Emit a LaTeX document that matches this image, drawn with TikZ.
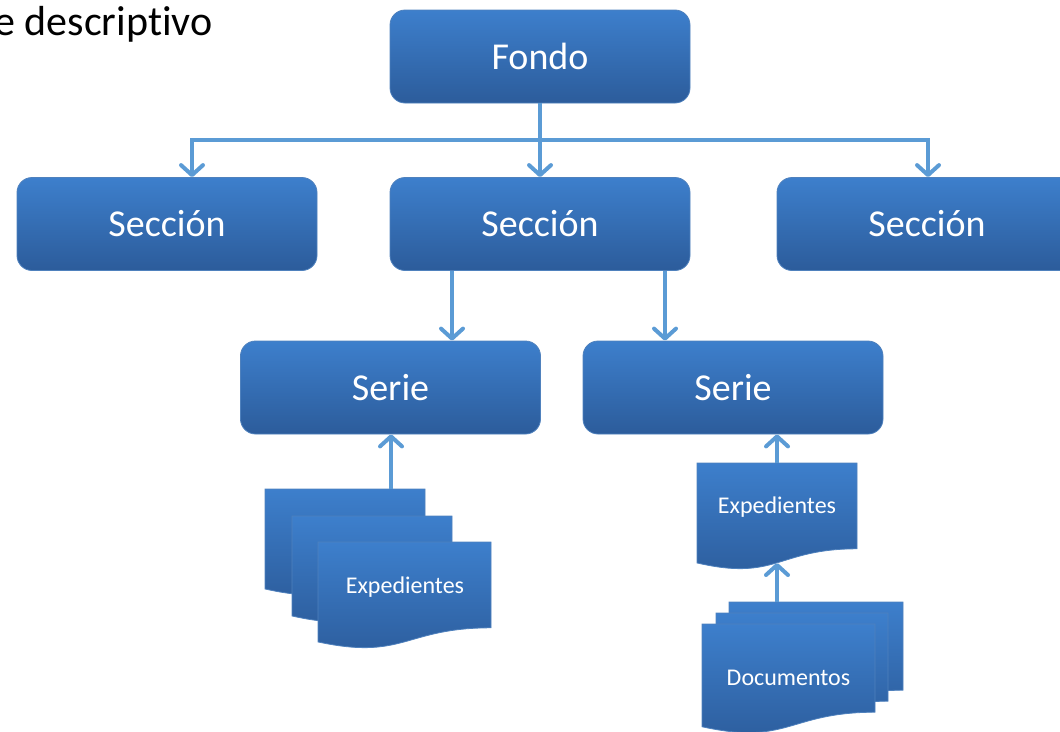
\documentclass[tikz,border=0pt]{standalone}
\usepackage{fontspec}
\setmainfont{Carlito}[Ligatures=NoCommon]
\usetikzlibrary{arrows.meta}

\definecolor{boxtop}{HTML}{3D7FCC}
\definecolor{boxbottom}{HTML}{2C5C9B}
\definecolor{boxline}{HTML}{4F81BD}
\definecolor{linkblue}{HTML}{5B9BD5}

\tikzset{
  unitbox/.style={rectangle, rounded corners=15pt, draw=boxline, line width=0.8pt,
    top color=boxtop, bottom color=boxbottom, text=white,
    minimum width=300pt, minimum height=93pt, font=\fontsize{38}{40}\selectfont},
  sheet/.style={draw=boxline, line width=0.8pt, top color=boxtop, bottom color=boxbottom},
  doclabel/.style={text=white, font=\fontsize{24}{26}\selectfont},
  link/.style={draw=linkblue, line width=4pt},
  linkarrow/.style={link, -{Straight Barb[length=10pt,width=22pt,round]}},
}

% one document page: left, top, width, height
\newcommand{\docpage}[4]{%
  \path[sheet] (#1,#2) -- ({#1+#3},#2) -- ({#1+#3},{#2+0.802*#4})
    .. controls ({#1+0.5*#3},{#2+0.802*#4}) and ({#1+0.5*#3},{#2+1.1075*#4}) .. (#1,{#2+0.934*#4}) -- cycle;}

\begin{document}
\begin{tikzpicture}[x=1pt, y=-1pt]
  \useasboundingbox (0,0) rectangle (1060,731);

  \node[anchor=base east, font=\fontsize{42}{44}\selectfont] (titulo) at (216,35) {e descriptivo};

  \node[unitbox] (fondo) at (540,56.5) {Fondo};
  \node[unitbox] (seccionA) at (167,224) {Sección};
  \node[unitbox] (seccionB) at (540,224) {Sección};
  \node[unitbox] (seccionC) at (927,224) {Sección};
  \node[unitbox] (serieA) at (390.5,387.5) {Serie};
  \node[unitbox] (serieB) at (733,387.5) {Serie};

  % Fondo -> secciones
  \coordinate (barA) at (192,140);
  \coordinate (barC) at (928,140);
  \draw[link, line cap=rect] (barA) -- (barC);
  \draw[linkarrow] (barA) -- (barA |- seccionA.north);
  \draw[linkarrow] (barC) -- (barC |- seccionC.north);
  \draw[linkarrow] (fondo.south) -- (seccionB.north);

  % Sección -> series
  \draw[linkarrow] ([xshift=-88pt]seccionB.south) -- ([xshift=61.5pt]serieA.north);
  \draw[linkarrow] ([xshift=125pt]seccionB.south) -- ([xshift=-68pt]serieB.north);

  % expedientes bajo la primera serie
  \docpage{265}{489}{160}{107}
  \docpage{292}{516}{160}{107}
  \docpage{318}{542}{173}{107}
  \node[doclabel] (expedientesA) at (405,587) {Expedientes};
  \coordinate (pilaA) at (391,489);
  \draw[linkarrow] (pilaA) -- (pilaA |- serieA.south);

  % expediente y documentos bajo la segunda serie
  \docpage{697}{463}{160}{107}
  \node[doclabel] (expedientesB) at (777,507) {Expedientes};
  \coordinate (expedienteB) at (777,463);
  \coordinate (ondaB) at (777,563);
  \draw[linkarrow] (expedienteB) -- (expedienteB |- serieB.south);

  \docpage{729}{602}{174}{110}
  \docpage{716}{613}{172}{110}
  \docpage{702}{624}{173}{110}
  \node[doclabel] (documentos) at (788.5,678) {Documentos};
  \coordinate (pilaB) at (777,602);
  \draw[linkarrow] (pilaB) -- (ondaB);
\end{tikzpicture}
\end{document}
